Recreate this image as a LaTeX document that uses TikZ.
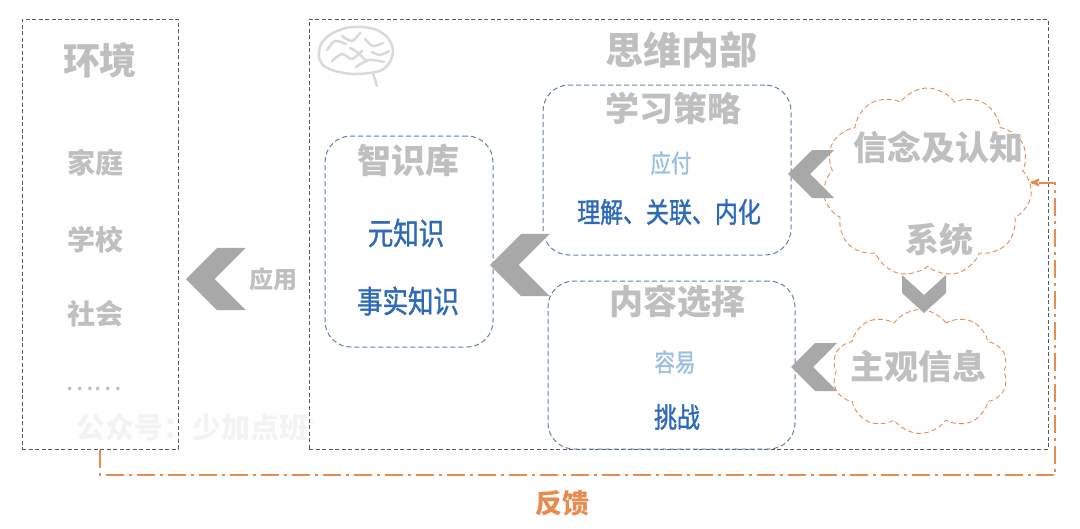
\documentclass[tikz,border=0pt]{standalone}
\usepackage{fontspec}
\usepackage{tikz}
\usetikzlibrary{arrows,positioning,calc,shapes.symbols}
\newfontfamily\cjk{Noto Sans CJK SC}
\newfontfamily\cjkn[FakeStretch=0.82,FakeBold=1.2]{Noto Sans CJK SC}
\newcommand\fsz[1]{\fontsize{#1}{#1}\selectfont}
\definecolor{titlegray}{RGB}{191,191,191}
\definecolor{framegray}{RGB}{90,90,90}
\definecolor{chevgray}{RGB}{168,168,168}
\definecolor{deepblue}{RGB}{46,106,184}
\definecolor{paleblue}{RGB}{157,191,226}
\definecolor{edgeblue}{RGB}{96,128,166}
\definecolor{fborange}{RGB}{230,140,80}
\definecolor{brainline}{RGB}{217,217,217}
\definecolor{marklight}{RGB}{243,243,243}
\tikzset{>=stealth',
         frame/.style={draw=framegray, line width=1pt,
           dash pattern=on 4pt off 2.5pt, inner sep=0pt},
         knowbox/.style={draw=edgeblue, line width=1pt,
           dash pattern=on 5pt off 3pt, rounded corners=26pt, inner sep=0pt},
         cloudbox/.style={cloud, cloud puffs=11, cloud puff arc=110,
           draw=fborange, line width=0.9pt, dash pattern=on 5pt off 3pt,
           inner sep=0pt},
         title/.style={text=titlegray, font=\cjk\bfseries\fsz{34}, inner sep=0pt},
         item/.style={text=titlegray, font=\cjk\bfseries\fsz{28}, inner sep=0pt},
         deep/.style={text=deepblue, font=\cjkn\fsz{30}, inner sep=0pt},
         pale/.style={text=paleblue, font=\cjkn\fsz{25}, inner sep=0pt},
         feedback/.style={draw=fborange, line width=2pt,
           dash pattern=on 18pt off 5pt on 3pt off 5pt},
         brain/.style={draw=brainline, line width=2.5pt, line cap=round},
         chevleft/.pic={\fill[chevgray] (0,0) -- (24,-24) -- (46,-24)
           -- (22,0) -- (46,24) -- (24,24) -- cycle;},
         chevdown/.pic={\fill[chevgray] (0,0) -- (-22,-20) -- (-22,-38)
           -- (0,-18) -- (22,-38) -- (22,-20) -- cycle;}}

\begin{document}
\begin{tikzpicture}[x=1pt,y=-1pt]
  \useasboundingbox (0,0) rectangle (1080,528);
  \node[text=marklight, font=\cjk\bfseries\fsz{29}, inner sep=0pt]
    (mark) at (196,427) {公众号：少加点班\textsuperscript{\fsz{12}®}};

  \node[frame, minimum width=156pt, minimum height=430pt] (env) at (100,234) {};
  \node[title, font=\cjk\bfseries\fsz{37}] (envtitle) at (100,60) {环境};
  \node[item] (home) at (95,163) {家庭};
  \node[item] (school) at (95,240) {学校};
  \node[item] (society) at (95,314) {社会};
  \node[item, font=\cjk\fsz{27}] (etc) at (94,389) {……};

  \node[frame, minimum width=739pt, minimum height=430pt] (mind) at (678.5,234) {};
  \node[title, font=\cjk\bfseries\fsz{38}] (mindtitle) at (681,50) {思维内部};

  % brain icon
  \draw[brain] plot[smooth cycle] coordinates {(319,57) (321,44) (331,34)
    (346,28) (362,27) (377,30) (388,38) (393,50) (390,62) (382,70) (370,73)
    (352,74) (335,71) (324,66)};
  \draw[brain] (373,73) -- (377,86);
  \draw[brain] plot[smooth] coordinates {(327,50) (335,41) (346,44)};
  \draw[brain] plot[smooth] coordinates {(342,36) (352,41) (360,33)};
  \draw[brain] plot[smooth] coordinates {(332,61) (342,54) (352,59) (362,51)};
  \draw[brain] plot[smooth] coordinates {(365,39) (373,46) (383,43)};
  \draw[brain] plot[smooth] coordinates {(356,67) (369,60) (384,62)};
  \draw[brain] plot[smooth] coordinates {(350,48) (357,52) (366,61)};
  \draw[brain] plot[smooth] coordinates {(372,52) (380,55) (389,51)};

  \node[knowbox, minimum width=168pt, minimum height=211pt] (store) at (409,241.5) {};
  \node[title] (storetitle) at (408,160) {智识库};
  \node[deep, font=\cjkn\fsz{31}] (meta) at (406,233) {元知识};
  \node[deep, font=\cjkn\fsz{31}] (fact) at (408,301) {事实知识};

  \node[knowbox, minimum width=248pt, minimum height=170pt] (strategy) at (667,170) {};
  \node[title] (strategytitle) at (673,108) {学习策略};
  \node[pale] (cope) at (671,163) {应付};
  \node[deep, font=\cjkn\fsz{28}] (digest) at (669,212) {理解、关联、内化};

  \node[knowbox, minimum width=247pt, minimum height=168pt] (content) at (671.5,365) {};
  \node[title] (contenttitle) at (677,302) {内容选择};
  \node[pale] (easy) at (675,362) {容易};
  \node[deep, font=\cjkn\fsz{28}] (challenge) at (677,417) {挑战};

  \node[cloudbox, minimum width=209pt, minimum height=189pt] (belief) at (927.5,182.5) {};
  \node[title] (belieftop) at (938,147) {信念及认知};
  \node[title] (beliefbot) at (939,240) {系统};
  \node[cloudbox, cloud puffs=10, minimum width=176pt, minimum height=124pt]
    (subjective) at (920,371.5) {};
  \node[title] (subjtext) at (918,366) {主观信息};

  \pic[scale=1.3] at (186,279) {chevleft};
  \node[item, font=\cjk\bfseries\fsz{24}] (apply) at (273,279) {应用};
  \pic[scale=1.3] at (490,265) {chevleft};
  \pic at (788,174) {chevleft};
  \pic at (791,367) {chevleft};
  \pic at (924,313) {chevdown};

  \coordinate (fbcorner) at (1055,475);
  \draw[feedback,->] (env.south) -- (env.south |- fbcorner) -- (fbcorner)
    -- (fbcorner |- belief.east) -- (belief.east);
  \node[text=fborange, font=\cjk\bfseries\fsz{27}, inner sep=0pt]
    (fblabel) at (562,503) {反馈};
\end{tikzpicture}
\end{document}
